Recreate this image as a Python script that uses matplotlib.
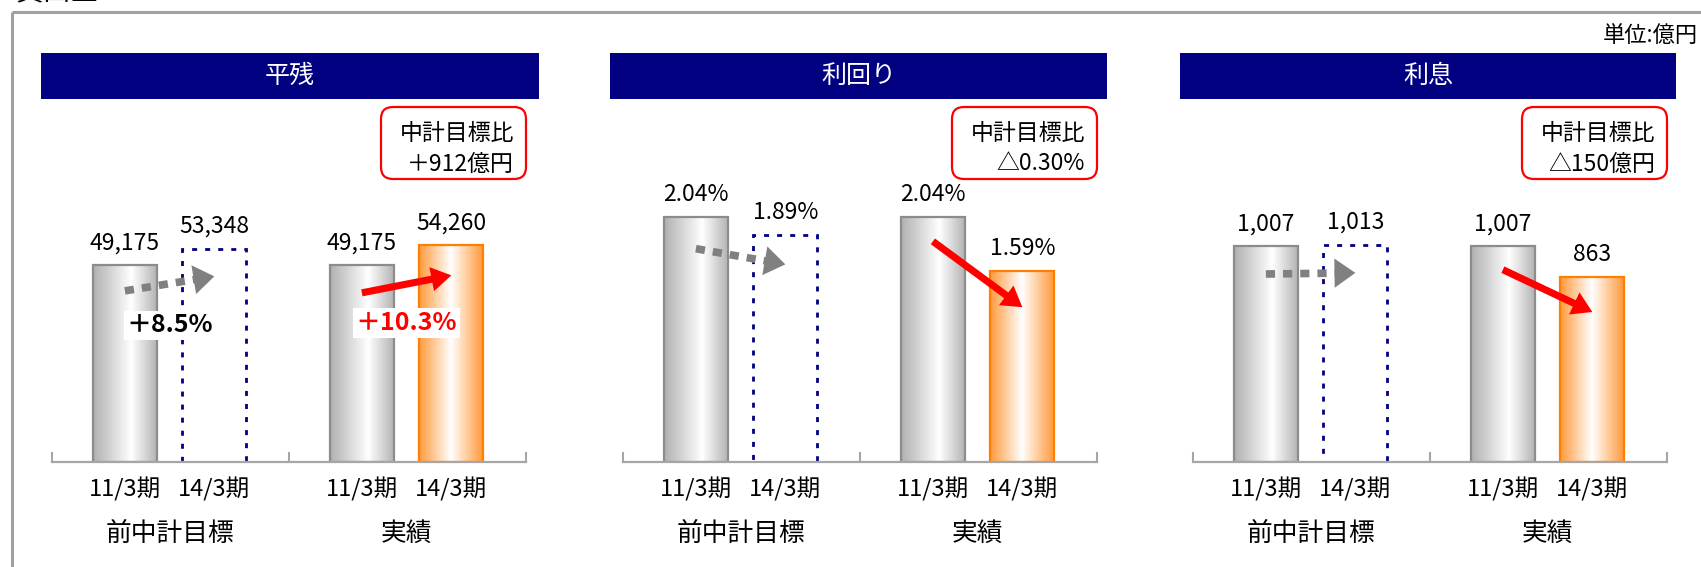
import matplotlib
matplotlib.use('Agg')
import numpy as np
import matplotlib.pyplot as plt
from matplotlib.patches import Rectangle, FancyBboxPatch
from matplotlib.colors import LinearSegmentedColormap

plt.rcParams['font.family'] = ['Noto Sans CJK JP', 'DejaVu Sans']

# data
titles = ['平残', '利回り', '利息']
periods = ['11/3期', '14/3期', '11/3期', '14/3期']
groups = ['前中計目標', '実績']
balance = [49175, 53348, 49175, 54260]
yields = [2.04, 1.89, 2.04, 1.59]
interest = [1007, 1013, 1007, 863]
vs_plan = ['＋912億円', '△0.30%', '△150億円']
growth = ['＋8.5%', '＋10.3%']

W, H = 1701, 567
fig = plt.figure(figsize=(W / 100, H / 100), dpi=100)

# overlay in pixel units for frame, headers and boxes
deco = fig.add_axes([0, 0, 1, 1])
deco.set_xlim(0, W)
deco.set_ylim(H, 0)
deco.axis('off')

deco.plot([12, W], [12, 12], color='#a0a0a0', lw=2.2, solid_capstyle='butt')
deco.plot([12, 12], [12, H], color='#a0a0a0', lw=2.2, solid_capstyle='butt')
deco.text(15, 0.5, '貸出金', fontsize=20, va='baseline')
deco.text(1698, 36, '単位:億円', ha='right', va='center', fontsize=16)

gray_cm = LinearSegmentedColormap.from_list('g', [(0, '#b0b0b0'), (0.6, '#ffffff'), (1, '#b4b4b4')])
orange_cm = LinearSegmentedColormap.from_list('o', [(0, '#ff9a3c'), (0.5, '#ffffff'), (1, '#ff9a3c')])
grad = np.linspace(0, 1, 256)[None, :]

panels = [balance, yields, interest]
fmts = ['{:,}', '{:.2f}%', '{:,}']
ytops = [65500, 2.18, 1221]
lefts = [52, 623, 1193]
heads = [(41, 539), (610, 1107), (1180, 1676)]
base_y, top_y, ax_w = 462, 200, 474
xpos = np.array([0.115, 0.87, 2.115, 2.87])
red_frac = [(0.86, 0.86), (0.9, 0.81), (0.89, 0.81)]

for i, vals in enumerate(panels):
    hx0, hx1 = heads[i]
    deco.add_patch(Rectangle((hx0, 53), hx1 - hx0, 46, color='#000080', lw=0))
    deco.text((hx0 + hx1) / 2, 76, titles[i], color='white', fontsize=18,
              ha='center', va='center')
    right = lefts[i] + ax_w
    deco.add_patch(FancyBboxPatch((right - 145, 107), 145, 72,
                                  boxstyle='round,pad=0,rounding_size=12',
                                  fc='white', ec='red', lw=1.6))
    deco.text(right - 12, 133, '中計目標比', ha='right', va='center', fontsize=16.5)
    deco.text(right - 12, 164, vs_plan[i], ha='right', va='center', fontsize=16.5)

    ax = fig.add_axes([lefts[i] / W, 1 - base_y / H, ax_w / W, (base_y - top_y) / H])
    ax.patch.set_visible(False)
    bars = ax.bar(xpos, vals, width=0.54, fc='none', zorder=3)
    for j, b in enumerate(bars):
        if j == 1:
            b.set_edgecolor('#000080')
            b.set_linestyle((0, (1.8, 2.9)))
            b.set_linewidth(2)
            continue
        cm = orange_cm if j == 3 else gray_cm
        b.set_edgecolor('#ff7f00' if j == 3 else '#8c8c8c')
        b.set_linewidth(1.6)
        im = ax.imshow(grad, cmap=cm, aspect='auto', zorder=2,
                       extent=[b.get_x(), b.get_x() + b.get_width(), 0, b.get_height()])
        im.set_clip_path(b)

    for s in ['top', 'left', 'right']:
        ax.spines[s].set_visible(False)
    ax.spines['bottom'].set_color('#a6a6a6')
    ax.spines['bottom'].set_linewidth(1.6)
    ax.spines['bottom'].set_zorder(5)
    ax.set_yticks([])
    ax.set_xticks(xpos, periods, fontsize=17)
    ax.set_xticks([-0.5, 1.5, 3.5], minor=True)
    ax.tick_params(axis='x', which='major', length=0, pad=11)
    ax.tick_params(axis='x', which='minor', direction='in', length=7, width=1.5,
                   color='#a6a6a6')
    ax.set_xlim(-0.5, 3.5)
    ax.set_ylim(0, ytops[i])

    for x, v in zip(xpos, vals):
        ax.annotate(fmts[i].format(v), (x, v), xytext=(0, 16), textcoords='offset points',
                    ha='center', va='center', fontsize=16.5)

    gx = [xpos[:2].mean(), xpos[2:].mean()]
    for x, g in zip(gx, groups):
        ax.annotate(g, (x, 0), xytext=(0, -52), textcoords='offset points',
                    ha='center', va='center', fontsize=18.5, annotation_clip=False)

    # gray dotted arrow (plan): dashed shaft + filled head
    g0 = np.array([xpos[0], 0.87 * vals[0]])
    g1 = np.array([xpos[1], 0.87 * vals[1]])
    gm = g0 + (g1 - g0) * 0.82
    ax.plot([g0[0], gm[0]], [g0[1], gm[1]], color='#808080', lw=5.5,
            dashes=(1.2, 1.05), dash_capstyle='butt', zorder=6)
    ax.annotate('', xy=g1, xytext=g0, zorder=6,
                arrowprops=dict(arrowstyle='-|>,head_length=1.0,head_width=0.7',
                                mutation_scale=15, color='#808080', lw=0,
                                shrinkA=0, shrinkB=0))
    # red arrow (actual)
    r0 = (xpos[2], red_frac[i][0] * vals[2])
    r1 = (xpos[3], red_frac[i][1] * vals[3])
    ax.annotate('', xy=r1, xytext=r0, zorder=6,
                arrowprops=dict(arrowstyle='simple,head_length=0.9,head_width=1.1,tail_width=0.32',
                                mutation_scale=16, color='red', lw=0, shrinkA=0, shrinkB=0))

    if i == 0:
        for k, x in enumerate(gx):
            ax.text(x, 0.64 * max(vals[2 * k:2 * k + 2]), growth[k],
                    color='black' if k == 0 else 'red', fontweight='bold', fontsize=18,
                    ha='center', va='center', zorder=7,
                    bbox=dict(fc='white', ec='none', pad=2))

fig.savefig('out.png', dpi=100)
